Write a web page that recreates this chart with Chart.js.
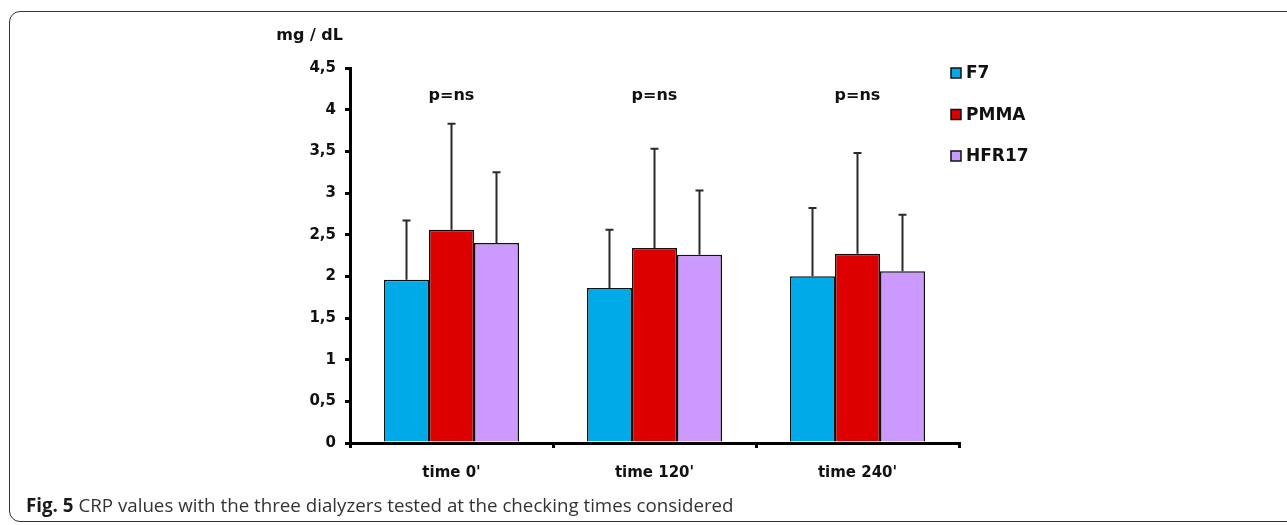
<!DOCTYPE html>
<html>
<head>
<meta charset="utf-8">
<script src="https://cdn.jsdelivr.net/npm/chart.js@4/dist/chart.umd.min.js"></script>
<style>
    html, body { margin: 0; padding: 0; background: #fff; }
    body { width: 1287px; height: 525px; position: relative; overflow: hidden; }
    .frame {
        position: absolute; left: 9px; top: 11px; width: 1300px; height: 511px;
        border: 1.5px solid #333; border-radius: 11px; box-sizing: border-box;
    }
    #chart { position: absolute; left: 0; top: 0; }
    .caption {
        position: absolute; left: 26px; top: 496px; line-height: 19px;
        font-family: "Open Sans", "Noto Sans", sans-serif;
        font-size: 19px; color: #333; white-space: nowrap;
        transform-origin: 0 0;
    }
    .caption b { color: #1a1a1a; }
</style>
</head>
<body>
<div class="frame"></div>
<canvas id="chart" width="1287" height="525"></canvas>
<div class="caption" id="caption"><b>Fig. 5</b> CRP values with the three dialyzers tested at the checking times considered</div>

<script>
// ---- Data ----
const categories = ["time 0'", "time 120'", "time 240'"];
const seriesNames = ['F7', 'PMMA', 'HFR17'];
const f7Mean    = [1.96, 1.86, 2.00];
const pmmaMean  = [2.56, 2.34, 2.27];
const hfr17Mean = [2.40, 2.26, 2.06];
// upper end of each error bar (mean + SD)
const f7Upper    = [2.67, 2.56, 2.82];
const pmmaUpper  = [3.83, 3.53, 3.48];
const hfr17Upper = [3.25, 3.03, 2.74];
const pLabels = ['p=ns', 'p=ns', 'p=ns'];
const yTicks = [0, 0.5, 1, 1.5, 2, 2.5, 3, 3.5, 4, 4.5];

const colors = ['#00AAE8', '#DD0000', '#CC99FF'];
const FONT = '"DejaVu Sans", sans-serif';

const means = [f7Mean, pmmaMean, hfr17Mean];
const uppers = [f7Upper, pmmaUpper, hfr17Upper];

// squeeze the caption to the condensed width of the original
const cap = document.getElementById('caption');
cap.style.transform = 'scaleX(' + (708 / cap.offsetWidth) + ')';

// ---- Plugins ----
const errorBars = {
    id: 'errorBars',
    afterDatasetsDraw(chart) {
        const { ctx, scales: { y } } = chart;
        ctx.save();
        ctx.strokeStyle = '#2a2a2a';
        ctx.lineWidth = 2;
        chart.data.datasets.forEach((ds, di) => {
            chart.getDatasetMeta(di).data.forEach((bar, i) => {
                const top = y.getPixelForValue(ds.upper[i]);
                ctx.beginPath();
                ctx.moveTo(bar.x, bar.y);
                ctx.lineTo(bar.x, top);
                ctx.moveTo(bar.x - 4, top);
                ctx.lineTo(bar.x + 4, top);
                ctx.stroke();
            });
        });
        ctx.restore();
    }
};

const annotations = {
    id: 'annotations',
    afterDraw(chart) {
        const { ctx, scales: { x }, chartArea } = chart;
        ctx.save();
        ctx.fillStyle = '#111';
        ctx.textBaseline = 'middle';

        // p values above each group
        ctx.font = 'bold 16px ' + FONT;
        ctx.textAlign = 'center';
        pLabels.forEach((t, i) => ctx.fillText(t, x.getPixelForValue(i), chartArea.top + 28));

        // unit label
        ctx.font = 'bold 16px ' + FONT;
        ctx.textAlign = 'right';
        ctx.fillText('mg / dL', chartArea.left - 7, chartArea.top - 32);

        // legend
        ctx.font = 'bold 17px ' + FONT;
        ctx.textAlign = 'left';
        chart.data.datasets.forEach((ds, i) => {
            const cy = chartArea.top + 5 + i * 41.5;
            const lx = chartArea.right - 8;
            ctx.fillStyle = ds.backgroundColor;
            ctx.fillRect(lx, cy - 5, 10, 10);
            ctx.strokeStyle = '#111';
            ctx.lineWidth = 1.5;
            ctx.strokeRect(lx, cy - 5, 10, 10);
            ctx.fillStyle = '#111';
            ctx.fillText(ds.label, lx + 15, cy + 1);
        });
        ctx.restore();
    }
};

// ---- Chart ----
new Chart(document.getElementById('chart'), {
    type: 'bar',
    data: {
        labels: categories,
        datasets: seriesNames.map((name, i) => ({
            label: name,
            data: means[i],
            upper: uppers[i],
            backgroundColor: colors[i],
            borderColor: '#111',
            borderWidth: 1.5,
            categoryPercentage: 0.665,
            barPercentage: 1.0
        }))
    },
    options: {
        responsive: false,
        animation: false,
        layout: { padding: { left: 0, top: 68, right: 328, bottom: 0 } },
        plugins: { legend: { display: false }, tooltip: { enabled: false } },
        scales: {
            x: {
                afterFit: s => { s.height = 82; },
                border: { color: '#000', width: 3 },
                grid: { drawOnChartArea: false, color: '#000', lineWidth: 3, tickLength: 5 },
                ticks: { color: '#111', padding: 16, font: { family: FONT, size: 15, weight: 'bold' } }
            },
            y: {
                min: 0,
                max: 4.5,
                afterFit: s => { s.width = 350; },
                afterBuildTicks: s => { s.ticks = yTicks.map(v => ({ value: v })); },
                border: { color: '#000', width: 3 },
                grid: { drawOnChartArea: false, color: '#000', lineWidth: 3, tickLength: 5 },
                ticks: {
                    color: '#111',
                    padding: 9,
                    font: { family: FONT, size: 15, weight: 'bold' },
                    callback: v => String(v).replace('.', ',')
                }
            }
        }
    },
    plugins: [errorBars, annotations]
});
</script>
</body>
</html>
